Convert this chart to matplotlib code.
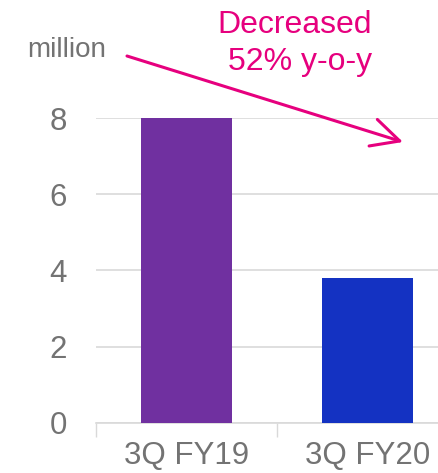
import matplotlib.pyplot as plt

categories = ['3Q FY19', '3Q FY20']
values = [8.0, 3.8]
bar_colors = ['#7030A0', '#1432C2']
y_ticks = [0, 2, 4, 6, 8]

plt.rcParams['font.family'] = ['Liberation Sans', 'DejaVu Sans']

fig = plt.figure(figsize=(4.39, 4.73), dpi=100)
# axes runs a little past the right edge, like the original slide
ax = fig.add_axes([96 / 439, 50.3 / 473, 362 / 439, 304.7 / 473])

x = range(len(categories))
ax.bar(x, values, width=0.5, color=bar_colors, zorder=3)

ax.set_xlim(-0.5, 1.5)
ax.set_ylim(0, 8)
ax.set_yticks(y_ticks)
ax.set_xticks(list(x))
ax.set_xticklabels(categories)
ax.set_xticks([-0.5, 0.5, 1.5], minor=True)

ax.tick_params(axis='y', length=0, pad=21, labelsize=22.5, labelcolor='#737373')
ax.tick_params(axis='x', which='major', length=0, pad=13, labelsize=22.5, labelcolor='#737373')
ax.tick_params(axis='x', which='minor', length=10, width=1, color='#D9D9D9')

ax.grid(axis='y', color='#D9D9D9', linewidth=1.2, zorder=0)
for side in ['top', 'right', 'left']:
    ax.spines[side].set_visible(False)
ax.spines['bottom'].set_color('#D9D9D9')
ax.spines['bottom'].set_linewidth(1.2)

fig.text(27 / 439, 416 / 473, 'million', fontsize=20, color='#737373', va='baseline')
fig.text(295 / 439, 440 / 473, 'Decreased', fontsize=23, color='#E6007E',
         ha='center', va='baseline')
fig.text(300 / 439, 403 / 473, '52% y-o-y', fontsize=23, color='#E6007E',
         ha='center', va='baseline')

ax.annotate('', xy=(403, 331), xytext=(127, 417),
            xycoords='figure pixels', textcoords='figure pixels',
            arrowprops=dict(arrowstyle='->,head_length=1.0,head_width=0.5',
                            color='#E6007E', lw=2.2, mutation_scale=20,
                            shrinkA=0, shrinkB=0))

fig.savefig('out.png', dpi=100)
